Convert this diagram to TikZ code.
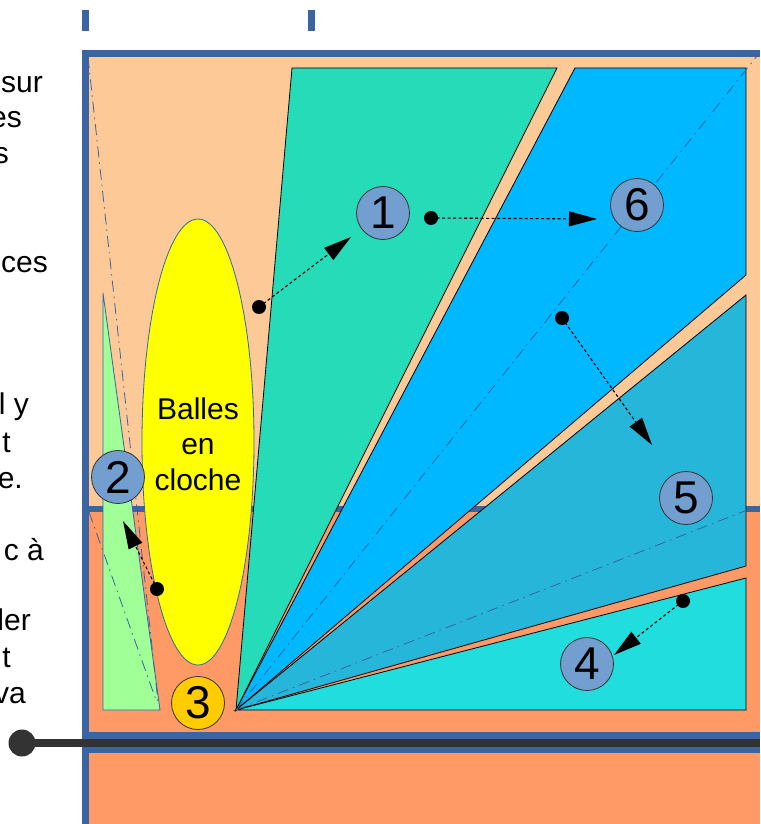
\documentclass[tikz,border=0pt]{standalone}
\usepackage{fontspec}
\setmainfont{Liberation Sans}
\usetikzlibrary{arrows.meta,shapes.geometric}
\definecolor{frameblue}{HTML}{3A64A2}
\definecolor{lineblue}{HTML}{3465A4}
\definecolor{lightorange}{HTML}{FDC997}
\definecolor{darkorange}{HTML}{FF9966}
\definecolor{tealc}{HTML}{26DBB8}
\definecolor{brightblue}{HTML}{00B8FF}
\definecolor{midblue}{HTML}{26B6DA}
\definecolor{cyanc}{HTML}{22DDDD}
\definecolor{greenc}{HTML}{A0FF96}
\definecolor{numblue}{HTML}{729FCF}
\definecolor{gold}{HTML}{FFCC00}
\definecolor{pureyellow}{HTML}{FFFF00}
\definecolor{darkgray}{HTML}{333333}
\begin{document}
\begin{tikzpicture}[x=1pt,y=-1pt,
  sector/.style={draw=black,line width=0.8pt,line join=miter},
  dashdotline/.style={draw=lineblue,line width=0.8pt,dash pattern=on 11pt off 5pt on 1.5pt off 5pt},
  numcircle/.style={circle,draw=black!80,line width=0.8pt,fill=numblue,minimum size=53pt,inner sep=0pt,font=\fontsize{46}{46}\selectfont},
  startdot/.style={circle,fill=black,minimum size=14pt,inner sep=0pt},
  arrowline/.style={draw=black,line width=1.1pt,dash pattern=on 3pt off 2.5pt,-{Triangle[length=28pt,width=15pt]}},
  lefttext/.style={anchor=base east,inner sep=0pt,font=\fontsize{30}{35}\selectfont},
  hub/.style={circle,fill=darkgray,minimum size=27pt,inner sep=0pt}
]
\useasboundingbox (0,0) rectangle (760,824);
\begin{scope}
\clip (0,0) rectangle (760,824);
% left text fragments
\node[lefttext] (t1) at (43,93) {sur};
\node[lefttext] (t2) at (22,128) {es};
\node[lefttext] (t3) at (9,163) {s};
\node[lefttext] (t4) at (48,272) {ces};
\node[lefttext] (t5) at (29,414) {l y};
\node[lefttext] (t6) at (11,452) {t};
\node[lefttext] (t7) at (23,488) {e.};
\node[lefttext] (t8) at (44,560) {c à};
\node[lefttext] (t9) at (31,630) {ler};
\node[lefttext] (t10) at (11,667) {t};
\node[lefttext] (t11) at (26,703) {va};
% tick marks
\fill[frameblue] (82,10) rectangle (89,31);
\fill[frameblue] (308,10) rectangle (315,31);
% backgrounds
\fill[lightorange] (89,57) rectangle (760,509);
\fill[darkorange] (89,509) rectangle (760,733);
\fill[darkorange] (89,753) rectangle (760,824);
\fill[frameblue] (82,50) rectangle (760,57);
\fill[frameblue] (82,50) rectangle (89,824);
\fill[frameblue] (89,506) rectangle (760,512);
\fill[frameblue] (82,732) rectangle (760,753);
% dark line with hub
\node[hub] (hub) at (22,743) {};
\coordinate (lineend) at (760,743);
\draw[darkgray,line width=8pt] (hub.center) -- (lineend);
% sectors
\coordinate (apex) at (236,710);
\draw[sector,fill=tealc] (292,68) -- (557,68) -- (apex) -- cycle;
\draw[sector,fill=brightblue] (575,68) -- (746,68) -- (746,275) -- (apex) -- cycle;
\draw[sector,fill=midblue] (746,295) -- (746,566) -- (apex) -- cycle;
\draw[sector,fill=cyanc] (746,578) -- (746,710) -- (apex) -- cycle;
% green triangle
\draw[draw=lineblue,line width=0.8pt,fill=greenc] (103,293) -- (103,710) -- (160,710) -- cycle;
% yellow ellipse
\draw[draw=lineblue,line width=0.8pt,fill=pureyellow] (198,442) ellipse [x radius=56, y radius=223];
\node[align=center,inner sep=0pt,font=\fontsize{30}{35.5}\selectfont] (balles) at (198,444) {Balles\\en\\cloche};
% dash-dot lines
\coordinate (l1end) at (757,56);
\coordinate (l2end) at (760,505);
\coordinate (l3a) at (88,57);
\coordinate (l3b) at (158,702);
\coordinate (l4a) at (89,512);
\coordinate (l4b) at (156,700);
\draw[dashdotline] (apex) -- (l1end);
\draw[dashdotline] (apex) -- (l2end);
\draw[dashdotline] (l3a) -- (l3b);
\draw[dashdotline] (l4a) -- (l4b);
% numbered circles
\node[numcircle] (n1) at (383,213) {1};
\node[numcircle] (n6) at (637,205) {6};
\node[numcircle] (n2) at (118,477) {2};
\node[numcircle,fill=gold] (n3) at (198,703) {3};
\node[numcircle] (n5) at (686,498) {5};
\node[numcircle] (n4) at (587,664) {4};
% arrows
\node[startdot] (d1) at (259,307) {};
\coordinate (a1) at (351,237);
\draw[arrowline] (d1.center) -- (a1);
\node[startdot] (d6) at (431,218) {};
\coordinate (a6) at (597,219);
\draw[arrowline] (d6.center) -- (a6);
\node[startdot] (d5) at (562,318) {};
\coordinate (a5) at (652,445);
\draw[arrowline] (d5.center) -- (a5);
\node[startdot] (d4) at (683,601) {};
\coordinate (a4) at (614,655);
\draw[arrowline] (d4.center) -- (a4);
\node[startdot] (d2) at (157,589) {};
\coordinate (a2) at (123,521);
\draw[arrowline] (d2.center) -- (a2);
\end{scope}
\end{tikzpicture}
\end{document}
